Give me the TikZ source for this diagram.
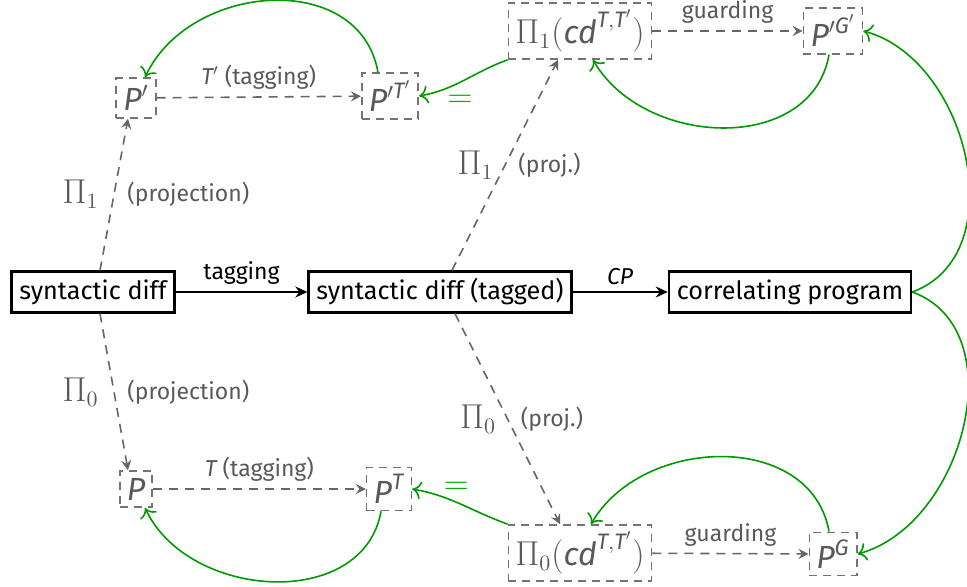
\documentclass[tikz,border=0pt]{standalone}
\usepackage{amsmath}
\usepackage{fontspec}
\setmainfont{Fira Sans}
\usetikzlibrary{arrows.meta}

\newcommand{\mv}[1]{\textit{#1}}

\begin{document}
\begin{tikzpicture}[x=0.5pt,y=-0.5pt,
    box/.style={draw,line width=1.1pt,inner xsep=4pt,minimum height=20.5pt,font=\fontsize{12.6}{14}\selectfont},
    proj/.style={draw=black!55,thick,dash pattern=on 4pt off 3pt,text=black!65,inner sep=3.5pt,font=\fontsize{16}{18}\selectfont},
    lbl/.style={text=black!65,font=\fontsize{11.5}{13}\selectfont},
    pilbl/.style={text=black!65,font=\fontsize{16}{18}\selectfont},
    arr/.style={line width=1pt,-{Stealth[length=6pt,width=5.5pt,inset=2pt]}},
    dasharr/.style={black!60,thick,dash pattern=on 4.5pt off 3.5pt,-{Stealth[length=5pt,width=5pt,inset=1.8pt]}},
    back/.style={green!60!black,thick,-{To[length=4.5pt,width=9pt]}}
]
    \useasboundingbox (0,0) rectangle (967,587);

    \node[box] (sd) at (93,292) {syntactic diff};
    \node[box] (sdt) at (440,292) {syntactic diff (tagged)};
    \node[box] (cp) at (790,292) {correlating program};

    \node[proj] (p1) at (136,98) {$\mv{P}'$};
    \node[proj] (p1t) at (390,96) {$\mv{P}'^{\mv{T}'}$};
    \node[proj] (pi1) at (580,31) {$\Pi_1(\mv{cd}^{\mv{T},\mv{T}'})$};
    \node[proj] (p1g) at (833,31) {$\mv{P}'^{\mv{G}'}$};

    \node[proj] (p0) at (136,489) {$\mv{P}$};
    \node[proj] (p0t) at (389,489) {$\mv{P}^{\mv{T}}$};
    \node[proj] (pi0) at (580,553) {$\Pi_0(\mv{cd}^{\mv{T},\mv{T}'})$};
    \node[proj] (p0g) at (833,554) {$\mv{P}^{\mv{G}}$};

    \draw[arr] (sd) -- node[lbl,text=black,above] {tagging} (sdt);
    \draw[arr] (sdt) -- node[lbl,text=black,above] {$\mv{CP}$} (cp);

    % projections
    \draw[dasharr] ([xshift=3.5pt]sd.north) -- node[pilbl,left=4pt] {$\Pi_1$} node[lbl,right=3pt] {(projection)} ([xshift=-4pt]p1.south);
    \draw[dasharr] ([xshift=3.5pt]sd.south) -- node[pilbl,left=4pt] {$\Pi_0$} node[lbl,right=3pt] {(projection)} ([xshift=-4pt]p0.north);
    \draw[dasharr] ([xshift=6pt]sdt.north) -- node[pilbl,left=2pt] {$\Pi_1$} node[lbl,right=3pt] {(proj.)} ([xshift=-11pt]pi1.south);
    \draw[dasharr] ([xshift=7.5pt]sdt.south) -- node[pilbl,left=2pt] {$\Pi_0$} node[lbl,right=3pt] {(proj.)} ([xshift=-10pt]pi0.north);

    % tagging and guarding
    \draw[dasharr] (p1) -- node[lbl,above] {$\mv{T}'$ (tagging)} (p1t);
    \draw[dasharr] (p0) -- node[lbl,above] {$\mv{T}$ (tagging)} (p0t);
    \draw[dasharr] (pi1) -- node[lbl,above] {guarding} (p1g);
    \draw[dasharr] (pi0) -- node[lbl,above] {guarding} (p0g);

    % going back
    \draw[back] ([xshift=-6pt]p1t.north) to[out=100,in=65,looseness=1.15] ([xshift=4.5pt]p1.north);
    \draw[back] ([xshift=-4pt]p0t.south) to[out=-100,in=-65,looseness=1.1] ([xshift=4.5pt]p0.south);
    \draw[back] (pi1.south west) to[out=200,in=10] node[pos=0.55,below=3pt,text=green!70!black,font=\fontsize{16}{18}\selectfont] {$=$} (p1t.east);
    \draw[back] (pi0.north west) to[out=160,in=-10] node[pos=0.55,above=0pt,text=green!70!black,font=\fontsize{16}{18}\selectfont] {$=$} (p0t.east);
    \draw[back] ([xshift=-2pt]p1g.south) to[out=-100,in=-60,looseness=1.1] ([xshift=6.5pt]pi1.south);
    \draw[back] ([xshift=-2pt]p0g.north) to[out=100,in=60,looseness=1.1] ([xshift=5.5pt]pi0.north);
    \draw[back] (cp.east) to[out=20,in=-15,looseness=1.05] (p1g.east);
    \draw[back] (cp.east) to[out=-20,in=15,looseness=1.05] (p0g.east);
\end{tikzpicture}
\end{document}
